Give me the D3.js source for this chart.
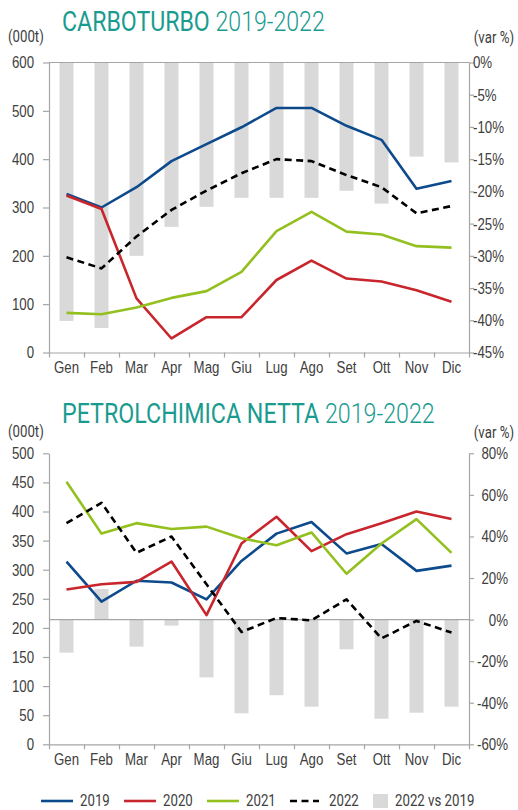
<!DOCTYPE html>
<html><head><meta charset="utf-8">
<script src="https://cdn.jsdelivr.net/npm/d3@7"></script>
<style>
html,body{margin:0;padding:0;background:#fff;}
svg{display:block;font-family:Roboto,"Noto Sans",sans-serif;}
</style></head>
<body><svg id="c" width="518" height="810"></svg>
<script>
const months = ["Gen","Feb","Mar","Apr","Mag","Giu","Lug","Ago","Set","Ott","Nov","Dic"];

const carbo2019 = [328,300,342,396,431,466,506,506,469,440,339,355];
const carbo2020 = [325,297,112,29,73,73,150,190,153,147,129,105];
const carbo2021 = [82,79,93,113,127,167,251,291,250,244,220,217];
const carbo2022 = [197,174,240,295,335,371,400,396,367,342,288,303];
const carboVar  = [-40.1,-41.2,-30,-25.5,-22.4,-21,-21,-21,-19.9,-21.9,-14.6,-15.5];
const carboLeftTicks = [0,100,200,300,400,500,600];
const carboRightTicks = [0,-5,-10,-15,-20,-25,-30,-35,-40,-45];

const petro2019 = [314,245,281,278,249,315,362,382,328,344,298,307];
const petro2020 = [266,275,279,314,222,345,391,332,361,380,400,387];
const petro2021 = [451,362,380,370,374,354,342,364,293,345,387,329];
const petro2022 = [380,415,329,357,275,193,217,213,249,182,212,192];
const petroVar  = [-15.9,14.7,-13,-2.9,-27.8,-45.1,-36.4,-41.9,-14.3,-47.7,-44.8,-41.9];
const petroLeftTicks = [0,50,100,150,200,250,300,350,400,450,500];
const petroRightTicks = [80,60,40,20,0,-20,-40,-60];

const seriesNames = ["2019","2020","2021","2022"];
const colors = {"2019":"#0d4a8c","2020":"#c8262c","2021":"#93c01f","2022":"#000000"};
const barColor = "#d9d9d9";
const axisColor = "#a6a6a6";
const textColor = "#404040";
const titleColor = "#1a9b8f";
const SX = 0.78; // horizontal squeeze to mimic a condensed face

const svg = d3.select("#c");

function squeeze(sel, s){
  sel.each(function(){
    const t = d3.select(this);
    const x = +t.attr("x") || 0;
    t.attr("transform", `translate(${x},0) scale(${s},1) translate(${-x},0)`);
  });
}
function styleAxis(g){
  g.selectAll("path.domain").attr("stroke", axisColor).attr("stroke-width",1.2);
  g.selectAll(".tick line").attr("stroke", axisColor).attr("stroke-width",1.2);
  g.selectAll("text").attr("fill", textColor).style("font-size","17px");
  squeeze(g.selectAll("text"), SX);
}

function chart(opt){
  const x0 = 49, x1 = 469;
  const x = d3.scaleBand().domain(months).range([x0,x1]).padding(0);
  const xl = d3.scaleLinear().domain([0,months.length]).range([x0,x1]);
  const yL = d3.scaleLinear().domain(opt.leftDomain).range([opt.yBottom, opt.yTop]);
  const yR = d3.scaleLinear().domain(opt.rightDomain).range([opt.yBottom, opt.yTop]);
  const g = svg.append("g");

  // title
  const title = g.append("text").attr("x",62).attr("y",opt.titleY)
    .attr("fill", titleColor).style("font-size","27px");
  title.append("tspan").attr("font-weight",400).text(opt.titleMain + " ");
  title.append("tspan").attr("font-weight",300).text(opt.titleYears);
  const w = title.node().getComputedTextLength();
  squeeze(title, opt.titleWidth / w);

  // units
  const u1 = g.append("text").attr("x",8).attr("y",opt.unitY).attr("fill",textColor)
    .style("font-size","17px").text("(000t)");
  squeeze(u1, SX);
  const u2 = g.append("text").attr("x",514).attr("y",opt.unitY+1).attr("text-anchor","end")
    .attr("fill",textColor).style("font-size","17px").text("(var %)");
  squeeze(u2, SX);

  // bars
  const bw = 14;
  g.append("g").selectAll("rect").data(opt.varData).join("rect")
    .attr("x",(d,i)=>x(months[i]) + (x.bandwidth()-bw)/2)
    .attr("y",d=>Math.min(yR(d), yR(0)))
    .attr("width",bw)
    .attr("height",d=>Math.abs(yR(d)-yR(0)))
    .attr("fill",barColor);

  // zero line of the variation axis
  g.append("line").attr("x1",x0).attr("x2",x1).attr("y1",yR(0)).attr("y2",yR(0))
    .attr("stroke",axisColor).attr("stroke-width",1.2);

  // left axis
  const gl = g.append("g").attr("transform",`translate(${x0},0)`)
    .call(d3.axisLeft(yL).tickValues(opt.leftTicks).tickSize(6).tickSizeOuter(0).tickPadding(9));
  styleAxis(gl);

  // right axis
  const ra = d3.axisRight(yR).tickValues(opt.rightTicks).tickSize(5).tickSizeOuter(0)
    .tickPadding(0).tickFormat(d => d + "%");
  const gr = g.append("g").attr("transform",`translate(${x1},0)`).call(ra);
  if (opt.rightAlignEnd){
    gr.selectAll("text").attr("text-anchor","end").attr("x", 508 - x1);
  } else {
    gr.selectAll("text").attr("x", 4);
  }
  styleAxis(gr);

  // bottom axis (tick marks at band edges)
  const gb = g.append("g").attr("transform",`translate(0,${opt.yBottom})`)
    .call(d3.axisBottom(xl).ticks(months.length).tickSize(5).tickSizeOuter(0).tickFormat(""));
  styleAxis(gb);
  // month labels
  const gbl = g.append("g").attr("transform",`translate(0,${opt.yBottom})`)
    .call(d3.axisBottom(x).tickSize(0).tickPadding(8.3));
  gbl.select("path.domain").remove();
  styleAxis(gbl);

  // lines
  const line = d3.line().x((d,i)=>x(months[i]) + x.bandwidth()/2).y(d=>yL(d));
  opt.series.forEach((s,k)=>{
    const name = seriesNames[k];
    g.append("path").datum(s).attr("d",line).attr("fill","none")
      .attr("stroke",colors[name]).attr("stroke-width",2.6)
      .attr("stroke-linejoin","round")
      .attr("stroke-dasharray", name==="2022" ? "7,4.5" : null);
  });
}

chart({
  titleMain:"CARBOTURBO", titleYears:"2019-2022", titleY:31, titleWidth:263,
  unitY:42, yTop:62.5, yBottom:352.5,
  leftDomain:[0,600], rightDomain:[-45,0],
  leftTicks:carboLeftTicks, rightTicks:carboRightTicks,
  varData:carboVar, series:[carbo2019,carbo2020,carbo2021,carbo2022],
  rightAlignEnd:false
});
chart({
  titleMain:"PETROLCHIMICA NETTA", titleYears:"2019-2022", titleY:423, titleWidth:373,
  unitY:437, yTop:453.3, yBottom:744.3,
  leftDomain:[0,500], rightDomain:[-60,80],
  leftTicks:petroLeftTicks, rightTicks:petroRightTicks,
  varData:petroVar, series:[petro2019,petro2020,petro2021,petro2022],
  rightAlignEnd:true
});

// legend
const lg = svg.append("g");
const legendY = 801;
const legendItems = [
  {name:"2019", lx:41, tx:80},
  {name:"2020", lx:124, tx:163},
  {name:"2021", lx:207, tx:246},
  {name:"2022", lx:290, tx:329}
];
legendItems.forEach(it=>{
  lg.append("line").attr("x1",it.lx).attr("x2",it.lx + (it.name==="2022"?29:32))
    .attr("y1",legendY).attr("y2",legendY).attr("stroke",colors[it.name]).attr("stroke-width",2.6)
    .attr("stroke-dasharray", it.name==="2022" ? "7,4.5" : null);
  const t = lg.append("text").attr("x",it.tx).attr("y",legendY+5.5).attr("fill",textColor)
    .style("font-size","16.5px").text(it.name);
  squeeze(t, SX*17/16.5);
});
lg.append("rect").attr("x",373).attr("y",legendY-7).attr("width",15).attr("height",14).attr("fill",barColor);
const lt = lg.append("text").attr("x",395).attr("y",legendY+5.5).attr("fill",textColor)
  .style("font-size","16.5px").text("2022 vs 2019");
squeeze(lt, SX*17/16.5);
</script></body></html>
